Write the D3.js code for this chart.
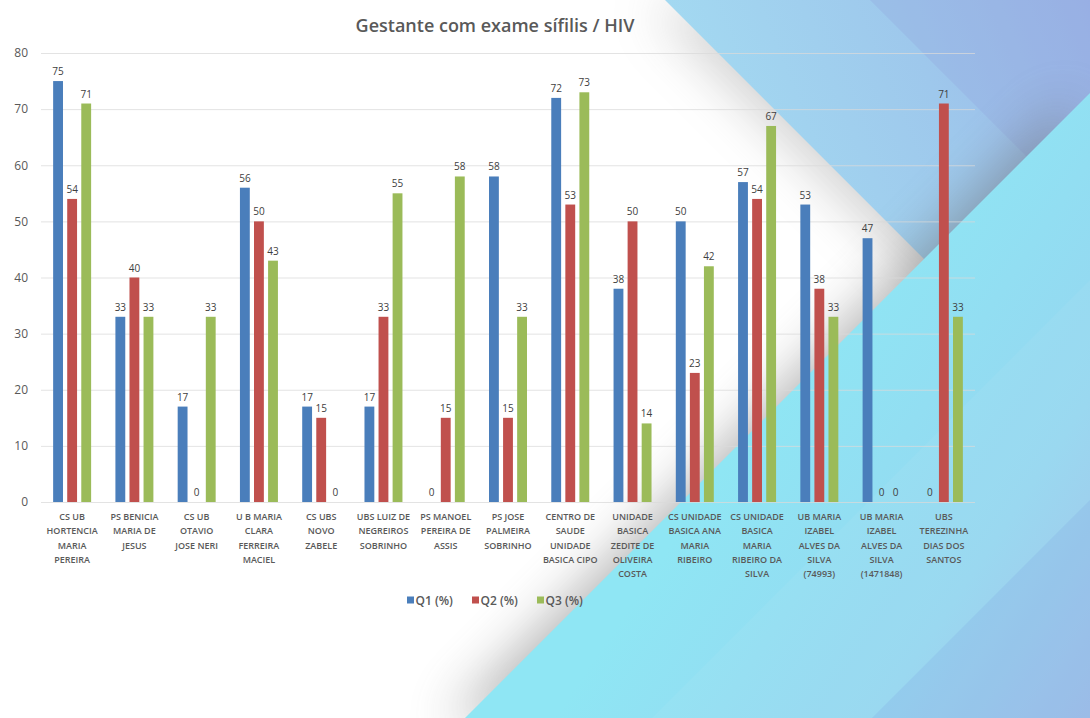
<!DOCTYPE html>
<html>
<head>
<meta charset="utf-8">
<script src="https://cdn.jsdelivr.net/npm/d3@7"></script>
<style>
  html, body { margin: 0; padding: 0; background: #ffffff; }
  svg { display: block; }
</style>
</head>
<body>
<svg id="chart" width="1090" height="718"></svg>
<script>
// Health units (line breaks mark where each name wraps under the axis)
const categories = [
  "CS UB\nHORTENCIA\nMARIA\nPEREIRA",
  "PS BENICIA\nMARIA DE\nJESUS",
  "CS UB\nOTAVIO\nJOSE NERI",
  "U B MARIA\nCLARA\nFERREIRA\nMACIEL",
  "CS UBS\nNOVO\nZABELE",
  "UBS LUIZ DE\nNEGREIROS\nSOBRINHO",
  "PS MANOEL\nPEREIRA DE\nASSIS",
  "PS JOSE\nPALMEIRA\nSOBRINHO",
  "CENTRO DE\nSAUDE\nUNIDADE\nBASICA CIPO",
  "UNIDADE\nBASICA\nZEDITE DE\nOLIVEIRA\nCOSTA",
  "CS UNIDADE\nBASICA ANA\nMARIA\nRIBEIRO",
  "CS UNIDADE\nBASICA\nMARIA\nRIBEIRO DA\nSILVA",
  "UB MARIA\nIZABEL\nALVES DA\nSILVA\n(74993)",
  "UB MARIA\nIZABEL\nALVES DA\nSILVA\n(1471848)",
  "UBS\nTEREZINHA\nDIAS DOS\nSANTOS"
];

// Percentage of pregnant women tested, per quarter
const q1 = [75, 33, 17, 56, 17, 17, 0, 58, 72, 38, 50, 57, 53, 47, 0];
const q2 = [54, 40, 0, 50, 15, 33, 15, 15, 53, 50, 23, 54, 38, 0, 71];
const q3 = [71, 33, 33, 43, 0, 55, 58, 33, 73, 14, 42, 67, 33, 0, 33];

const seriesNames = ["Q1 (%)", "Q2 (%)", "Q3 (%)"];
const seriesColors = ["#4a7ebb", "#c0504d", "#9bbb59"];
const yTicks = [0, 10, 20, 30, 40, 50, 60, 70, 80];
const chartTitle = "Gestante com exame sífilis / HIV";

const seriesValues = [q1, q2, q3];
const W = 1090, H = 718;
const svg = d3.select("#chart");
const defs = svg.append("defs");

// ---------- decorative background ----------
const skyGrad = defs.append("linearGradient").attr("id", "skyGrad")
  .attr("gradientUnits", "userSpaceOnUse")
  .attr("x1", 720).attr("y1", 150).attr("x2", 1090).attr("y2", 0);
skyGrad.append("stop").attr("offset", 0).attr("stop-color", "#a3d9f1");
skyGrad.append("stop").attr("offset", 0.55).attr("stop-color", "#9ec8ec");
skyGrad.append("stop").attr("offset", 1).attr("stop-color", "#9cb3e6");

const cyanGrad = defs.append("linearGradient").attr("id", "cyanGrad")
  .attr("gradientUnits", "userSpaceOnUse")
  .attr("x1", 720).attr("y1", 470).attr("x2", 1090).attr("y2", 718);
cyanGrad.append("stop").attr("offset", 0).attr("stop-color", "#8fe6f4");
cyanGrad.append("stop").attr("offset", 0.6).attr("stop-color", "#95d6f0");
cyanGrad.append("stop").attr("offset", 1).attr("stop-color", "#9fc0e9");

const soft = defs.append("filter").attr("id", "soft")
  .attr("x", "-30%").attr("y", "-30%").attr("width", "160%").attr("height", "160%");
soft.append("feGaussianBlur").attr("stdDeviation", 26);

const bg = svg.append("g").attr("class", "background");
bg.append("rect").attr("width", W).attr("height", H).attr("fill", "#ffffff");

const skyPts = [[665, 0], [W, 0], [W, 425]];
const cyanPts = [[465, H], [W, 93], [W, H]];
const poly = pts => pts.map(p => p.join(",")).join(" ");

// soft shadows cast onto the white area
bg.append("polygon").attr("points", poly(skyPts.map(p => [p[0] - 14, p[1] + 6])))
  .attr("fill", "#7a7a7a").attr("opacity", 0.34).attr("filter", "url(#soft)");
bg.append("polygon").attr("points", poly(skyPts)).attr("fill", "url(#skyGrad)");
// second, more violet band in the upper right
bg.append("polygon").attr("points", poly([[870, 0], [W, 0], [W, 220]]))
  .attr("fill", "#93a8e0").attr("opacity", 0.35);

bg.append("polygon").attr("points", poly(cyanPts.map(p => [p[0] - 18, p[1] + 4])))
  .attr("fill", "#666666").attr("opacity", 0.48).attr("filter", "url(#soft)");
bg.append("polygon").attr("points", poly(cyanPts)).attr("fill", "url(#cyanGrad)");
// faint diagonal stripes in the cyan panel
bg.append("polygon").attr("points", poly([[652, H], [W, 280], [W, 500], [872, H]]))
  .attr("fill", "#ffffff").attr("opacity", 0.05);
bg.append("polygon").attr("points", poly([[872, H], [W, 500], [W, H]]))
  .attr("fill", "#8fb0e4").attr("opacity", 0.25);

// ---------- scales ----------
const x = d3.scaleBand().domain(categories).range([41, 975])
  .paddingInner(0.39).paddingOuter(0.195);
const xs = d3.scaleBand().domain([0, 1, 2]).range([0, x.bandwidth()])
  .paddingInner(0.3).paddingOuter(0);
const y = d3.scaleLinear().domain([0, 80]).range([502, 53]);

const font = "'Open Sans', 'DejaVu Sans', sans-serif";

// gridlines
const grid = svg.append("g").attr("transform", "translate(41,0)")
  .call(d3.axisLeft(y).tickValues(yTicks).tickSize(-934).tickFormat(""));
grid.select(".domain").remove();
grid.selectAll(".tick line").attr("stroke", "#d9d9d9").attr("stroke-opacity", 0.75)
  .attr("stroke-width", 1);

// y axis labels
const yAxis = svg.append("g").attr("transform", "translate(41,0)")
  .call(d3.axisLeft(y).tickValues(yTicks).tickSize(0).tickPadding(13));
yAxis.select(".domain").remove();
yAxis.selectAll("text").attr("font-family", font).attr("font-size", 12)
  .attr("fill", "#595959");

// title
svg.append("text").attr("x", 495).attr("y", 32).attr("text-anchor", "middle")
  .attr("font-family", font).attr("font-size", 18).attr("font-weight", 600)
  .attr("fill", "#595959").text(chartTitle);

// bars
const groups = svg.append("g").selectAll("g").data(categories).join("g")
  .attr("transform", d => `translate(${x(d)},0)`);

const cells = groups.selectAll("g.cell")
  .data((d, i) => seriesValues.map((vals, s) => ({ s, v: vals[i] })))
  .join("g").attr("class", "cell");

cells.append("rect")
  .attr("x", d => xs(d.s)).attr("width", xs.bandwidth())
  .attr("y", d => y(d.v)).attr("height", d => y(0) - y(d.v))
  .attr("fill", d => seriesColors[d.s]);

cells.append("text")
  .attr("x", d => xs(d.s) + xs.bandwidth() / 2)
  .attr("y", d => y(d.v) - 6)
  .attr("text-anchor", "middle")
  .attr("font-family", font).attr("font-size", 10)
  .attr("fill", "#404040")
  .text(d => d.v);

// category labels
const catLabels = svg.append("g").selectAll("text").data(categories).join("text")
  .attr("x", d => x(d) + x.bandwidth() / 2)
  .attr("y", 520)
  .attr("text-anchor", "middle")
  .attr("font-family", font).attr("font-size", 9).attr("font-weight", 600)
  .attr("fill", "#595959");
catLabels.selectAll("tspan").data(d => d.split("\n")).join("tspan")
  .attr("x", function () { return d3.select(this.parentNode).attr("x"); })
  .attr("dy", (d, i) => i === 0 ? 0 : 14.3)
  .text(d => d);

// legend
const legendX = [407, 472, 537];
const legend = svg.append("g").selectAll("g").data(seriesNames).join("g")
  .attr("transform", (d, i) => `translate(${legendX[i]},600)`);
legend.append("rect").attr("x", 0).attr("y", -3.5).attr("width", 7).attr("height", 7)
  .attr("fill", (d, i) => seriesColors[i]);
legend.append("text").attr("x", 8.5).attr("y", 4.5)
  .attr("font-family", font).attr("font-size", 12).attr("font-weight", 600)
  .attr("fill", "#595959").text(d => d);
</script>
</body>
</html>
